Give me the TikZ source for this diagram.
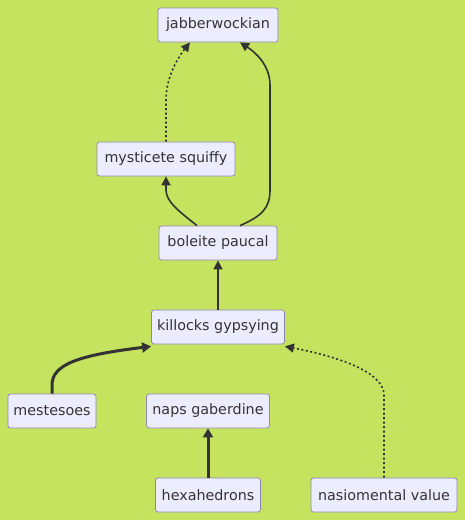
\documentclass[tikz,border=0pt]{standalone}
\usepackage{fontspec}
\setmainfont{DejaVu Sans}
\usetikzlibrary{arrows.meta}
\definecolor{bg}{RGB}{197,227,94}
\definecolor{boxfill}{RGB}{236,236,255}
\definecolor{boxline}{RGB}{147,132,180}
\definecolor{edge}{RGB}{51,51,51}
\begin{document}
\begin{tikzpicture}[x=1pt,y=-1pt,
  box/.style={draw=boxline,fill=boxfill,rounded corners=2.5pt,line width=0.8pt,inner sep=0pt,font=\fontsize{14.3}{16}\selectfont,text=edge},
  link/.style={draw=edge,line width=1.6pt,-{Triangle[length=9pt,width=9pt]}},
  thick link/.style={draw=edge,line width=3pt,-{Triangle[length=9pt,width=10pt]}},
  dot link/.style={draw=edge,line width=1.6pt,dash pattern=on 2pt off 2.5pt,-{Triangle[length=9pt,width=9pt]}}]
\fill[bg] (0,0) rectangle (465,520);
\useasboundingbox (0,0) rectangle (465,520);
\node[box,minimum width=120pt,minimum height=34pt] (jab) at (218,25) {jabberwockian};
\node[box,minimum width=138pt,minimum height=34pt] (mys) at (166,159) {mysticete squiffy};
\node[box,minimum width=118pt,minimum height=34pt] (bol) at (218,243) {boleite paucal};
\node[box,minimum width=133pt,minimum height=34pt] (kil) at (218,327) {killocks gypsying};
\node[box,minimum width=88pt,minimum height=34pt] (mes) at (52,411) {mestesoes};
\node[box,minimum width=123pt,minimum height=34pt] (nap) at (208,411) {naps gaberdine};
\node[box,minimum width=105pt,minimum height=34pt] (hex) at (208,495) {hexahedrons};
\node[box,minimum width=146pt,minimum height=34pt] (nas) at (384,495) {nasiomental value};
\draw[dot link] (mys.north) -- (166,100) .. controls (166,75) and (180,55) .. ([xshift=-28pt]jab.south);
\draw[link] ([xshift=22pt]bol.north) .. controls (262,216) and (270,208) .. (270,190) -- (270,85) .. controls (270,65) and (255,52) .. ([xshift=22pt]jab.south);
\draw[link] ([xshift=-21pt]bol.north) .. controls (180,212) and (166,202) .. (166,190) -- (mys.south);
\draw[link] (kil.north) -- (bol.south);
\draw[thick link] (mes.north) -- (52,385) .. controls (52,364) and (80,355) .. ([yshift=-2pt]kil.south west);
\draw[thick link] (hex.north) -- (nap.south);
\draw[dot link] (nas.north) -- (384,395) .. controls (384,370) and (330,355) .. ([yshift=-2pt]kil.south east);
\end{tikzpicture}
\end{document}
